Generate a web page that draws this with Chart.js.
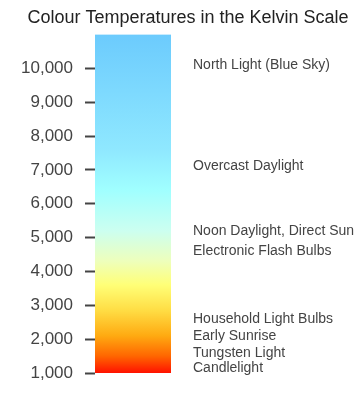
<!DOCTYPE html>
<html>
<head>
<meta charset="utf-8">
<script src="https://cdn.jsdelivr.net/npm/chart.js@4.4.1/dist/chart.umd.min.js"></script>
<style>
  html, body { margin: 0; padding: 0; background: #fff; }
  #wrap { width: 360px; height: 396px; }
</style>
</head>
<body>
<div id="wrap"><canvas id="c"></canvas></div>
<script>
// ---- data ----
const categories = ['Kelvin'];
const barRange = [1000, 11000];               // extent of the colour bar (K)
const kelvinTicks = [1000, 2000, 3000, 4000, 5000, 6000, 7000, 8000, 9000, 10000];
const sourceNames = ['North Light (Blue Sky)', 'Overcast Daylight', 'Noon Daylight, Direct Sun',
  'Electronic Flash Bulbs', 'Household Light Bulbs', 'Early Sunrise', 'Tungsten Light', 'Candlelight'];
const sourceKelvin = [10100, 7100, 5200, 4600, 2600, 2100, 1600, 1150];
// gradient stops: kelvin -> colour
const stopKelvin = [1000, 1500, 2100, 2850, 3600, 4300, 5200, 6400, 7600, 11000];
const stopColour = ['#ff1100', '#ff6600', '#ffaa11', '#ffdd44', '#ffff77', '#eeffbb', '#ccfff0', '#a0ffff', '#8fe8ff', '#6ccbfd'];

const FONT = "'Liberation Sans', Arial, sans-serif";

function gradientFill(ctx) {
  const chart = ctx.chart;
  const area = chart.chartArea;
  if (!area) return stopColour[0];
  const y = chart.scales.y;
  const g = chart.ctx.createLinearGradient(0, area.bottom, 0, area.top);
  const span = y.max - y.min;
  stopKelvin.forEach((k, i) => {
    g.addColorStop(Math.min(1, Math.max(0, (k - y.min) / span)), stopColour[i]);
  });
  return g;
}

new Chart(document.getElementById('c'), {
  type: 'bar',
  data: {
    labels: categories,
    datasets: [{
      data: [barRange],
      backgroundColor: gradientFill,
      borderWidth: 0,
      barPercentage: 1,
      categoryPercentage: 1
    }]
  },
  options: {
    responsive: true,
    maintainAspectRatio: false,
    animation: false,
    layout: { padding: { left: 16, right: 0, top: 0, bottom: 23 } },
    plugins: {
      legend: { display: false },
      tooltip: { enabled: false },
      title: {
        display: true,
        text: 'Colour Temperatures in the Kelvin Scale',
        color: '#222',
        font: { family: FONT, size: 18, weight: 'normal' },
        padding: { top: 7, bottom: 6 }
      }
    },
    scales: {
      x: { display: false },
      y: {
        position: 'left',
        min: barRange[0],
        max: barRange[1],
        afterBuildTicks: (s) => { s.ticks = kelvinTicks.map(v => ({ value: v })); },
        afterFit: (s) => { s.width = 79; },
        border: { display: false },
        grid: { drawOnChartArea: false, color: '#444', tickLength: 10, tickWidth: 2 },
        ticks: {
          color: '#444',
          padding: 12,
          font: { family: FONT, size: 17 },
          callback: (v) => Number(v).toLocaleString('en-US')
        }
      },
      y2: {
        position: 'right',
        min: barRange[0],
        max: barRange[1],
        afterBuildTicks: (s) => { s.ticks = sourceKelvin.map(v => ({ value: v })); },
        afterFit: (s) => { s.width = 189; },
        border: { display: false },
        grid: { display: false, drawTicks: true, tickLength: 20 },
        ticks: {
          color: '#444',
          padding: 2,
          autoSkip: false,
          font: { family: FONT, size: 14 },
          callback: (v) => sourceNames[sourceKelvin.indexOf(v)]
        }
      }
    }
  }
});
</script>
</body>
</html>
